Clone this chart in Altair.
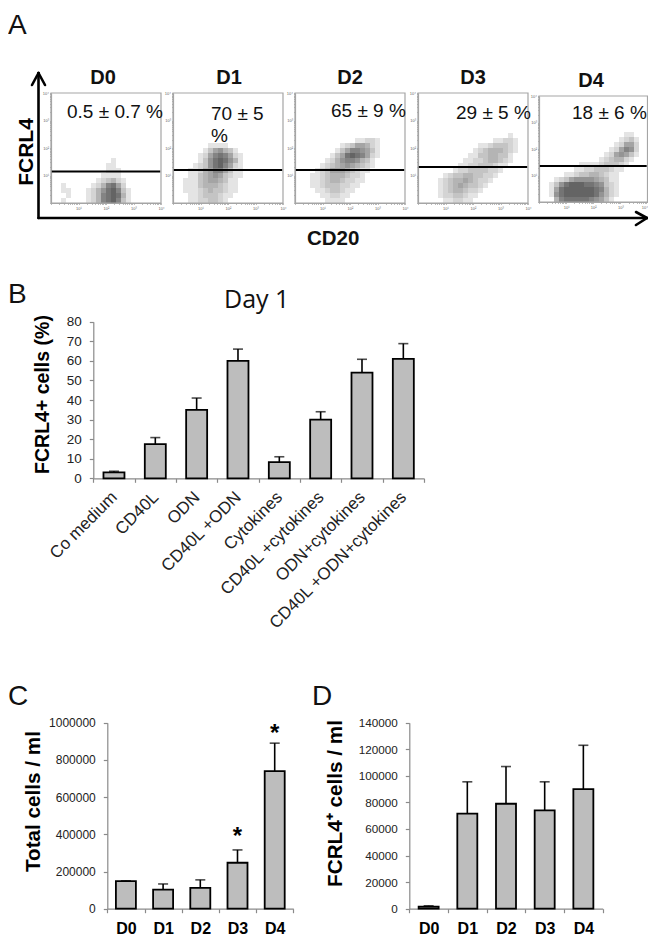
import math
import altair as alt
import pandas as pd

W, H = 640, 930
M = 8  # page margin

# ---------- values ----------
cats_b = ["Co medium", "CD40L", "ODN", "CD40L +ODN", "Cytokines",
          "CD40L +cytokines", "ODN+cytokines", "CD40L +ODN+cytokines"]
vals_b = [3, 17.5, 35, 60, 8.3, 30, 54, 61]
tops_b = [3.6, 20.8, 41, 66, 11, 34, 60.8, 68.8]

days = ["D0", "D1", "D2", "D3", "D4"]
vals_c = [148000, 103000, 112000, 247000, 740000]
tops_c = [150000, 133000, 155000, 316000, 890000]
star_days = ["D3", "D4"]
star_vals = [407000, 961000]

vals_d = [1500, 71500, 79000, 74000, 90000]
tops_d = [2200, 95500, 107000, 95500, 123000]

# Density of the flow-cytometry clouds, read by eye: one string per row, top to
# bottom, one digit per cell (0 = empty, 9 = darkest).
dens_d0 = [
    "0000000000000000000000",
    "0000000000000000000000",
    "0000000000000000000000",
    "0000000000000000000000",
    "0000000000000000000000",
    "0000000000000000000000",
    "0000000000001000000000",
    "0000000000011000000000",
    "0000000000011100000000",
    "0000000000111100000000",
    "0000000001234210000000",
    "0010000012478520000000",
    "0011000124689731000000",
    "0001000124789841000000",
    "0010000124789731000000",
]
dens_d1 = [
    "0000000000000000000000",
    "0000000000000000000000",
    "0000000000000000000000",
    "0000000111100000000000",
    "0000001356431000000000",
    "0000012578752100000000",
    "0000013689864100000000",
    "0000123689752100000000",
    "0001124577531100000000",
    "0001134565321100000000",
    "0011134554311000000000",
    "0011134443211000000000",
    "0011123433211000000000",
    "0001123332110000000000",
    "0001122332100000000000",
]
dens_d2 = [
    "0000000000000000000000",
    "0000000000000000000000",
    "0000000000001122100000",
    "0000000001235542100000",
    "0000000013577653100000",
    "0000000135898752100000",
    "0000001246776431000000",
    "0000012345654321000000",
    "0000123555432110000000",
    "0001123444322100000000",
    "0001123443221100000000",
    "0001123332211000000000",
    "0000112332110000000000",
    "0000011221100000000000",
    "0000001111000000000000",
]
dens_d3 = [
    "0000000000000000000000",
    "0000000000000000001000",
    "0000000000000001122100",
    "0000000000001123332100",
    "0000000000012344432100",
    "0000000000113344331000",
    "0000000001122344321000",
    "0000000011223332110000",
    "0000000122333322100000",
    "0000012334433221000000",
    "0000123445432210000000",
    "0000123454332100000000",
    "0000123443221000000000",
    "0000122332110000000000",
    "0000011221100000000000",
]
dens_d4 = [
    "0000000000000000000000",
    "0000000000000000011000",
    "0000000000000000123100",
    "0000000000000001255200",
    "0000000000000012576200",
    "0000000000000125653100",
    "0000000000001234421000",
    "0000000011112333210000",
    "0000000112233321100000",
    "0000011233443211000000",
    "0001235666654311000000",
    "0013689998876321000000",
    "0015899999987421000000",
    "0016899999986421000000",
    "0004788888765310000000",
]
gates = [1.145, 1.2, 1.2, 1.31, 1.36]
percents = ["0.5 \u00b1 0.7 %", "70 \u00b1 5", "65 \u00b1 9 %", "29 \u00b1 5 %", "18 \u00b1 6 %"]

FONT = "Liberation Sans"
GRAY_AX = "#8a8a8a"


def label(text, x, y, size, weight="normal", align="left", font=FONT, color="#111111"):
    return alt.Chart(pd.DataFrame({"t": [text]})).mark_text(
        font=font, fontSize=size, fontWeight=weight, align=align,
        baseline="alphabetic", color=color,
    ).encode(x=alt.value(x - M), y=alt.value(y - M), text="t:N")


def stroke(x1, y1, x2, y2, width=2.6, color="black"):
    return alt.Chart(pd.DataFrame({"a": [0]})).mark_rule(
        color=color, strokeWidth=width, strokeCap="round"
    ).encode(x=alt.value(x1 - M), y=alt.value(y1 - M),
             x2=alt.value(x2 - M), y2=alt.value(y2 - M))


# ---------- panel A: scatter boxes ----------
DEC = [d + math.log10(k) for d in range(4) for k in range(1, 10)] + [4]
SUP = ("datum.value==1?'10\u00b9':datum.value==2?'10\u00b2':"
       "datum.value==3?'10\u00b3':datum.value==4?'10\u2074':''")


def flow_panel(rows, gate, x0, x1, ytop, ybot, flush=False):
    step_x = 5 * 4 / (x1 - x0)
    step_y = 5 * 4 / (ybot - ytop)
    cells = []
    for r, row in enumerate(rows):
        i = len(rows) - 1 - r
        for c, ch in enumerate(row):
            if ch != "0":
                cells.append({"dx": (c + 0.5) * step_x, "dy": (i + 0.5) * step_y, "level": int(ch)})
    xs = alt.Scale(domain=[0, 4], range=[x0 - M, x1 - M], nice=False, zero=False)
    ys = alt.Scale(domain=[0, 4], range=[ybot - M, ytop - M], nice=False, zero=False)
    ax_x = alt.Axis(orient="bottom", offset=ybot - M - H, values=DEC, labelExpr=SUP, title=None,
                    grid=False, tickSize=1.5, tickWidth=0.5, tickColor="#777777", domainColor="#a5a5a5",
                    domainWidth=1.2, labelFontSize=4, labelColor="#666666", labelPadding=2,
                    labelFont=FONT, labelOverlap=False, labelBound=False, labelFlush=flush)
    ax_y = alt.Axis(orient="left", offset=-(x0 - M), values=DEC, labelExpr=SUP, title=None,
                    grid=False, tickSize=1.5, tickWidth=0.5, tickColor="#777777", domainColor="#a5a5a5",
                    domainWidth=1.2, labelFontSize=4, labelColor="#666666", labelPadding=1,
                    labelFont=FONT, labelOverlap=False, labelBound=False, labelFlush=False)
    cloud = alt.Chart(pd.DataFrame(cells)).mark_square(size=25.5, color="#2e2e2e").encode(
        x=alt.X("dx:Q", scale=xs, axis=ax_x),
        y=alt.Y("dy:Q", scale=ys, axis=ax_y),
        opacity=alt.Opacity("level:Q", scale=alt.Scale(domain=[1, 9], range=[0.13, 0.74]), legend=None),
    )
    frame = alt.Chart(pd.DataFrame({"a": [0], "b": [4]})).mark_rect(
        fill=None, stroke="#a5a5a5", strokeWidth=1.2
    ).encode(x=alt.X("a:Q", scale=xs, axis=ax_x), x2="b:Q",
             y=alt.Y("a:Q", scale=ys, axis=ax_y), y2="b:Q")
    line = alt.Chart(pd.DataFrame({"g": [gate], "a": [0.03], "b": [3.97]})).mark_rule(
        color="black", strokeWidth=2
    ).encode(x=alt.X("a:Q", scale=xs, axis=ax_x), x2="b:Q",
             y=alt.Y("g:Q", scale=ys, axis=ax_y))
    return alt.layer(cloud, frame, line)


# ---------- bar panels ----------
def bar_panel(cats, vals, tops, ymax, yvals, x0, x1, ytop, ybot, title, title_x, title_y,
              bar_w, cap_w, xaxis_kw, title_size, label_size):
    df = pd.DataFrame({"c": cats, "v": vals, "t": tops})
    xs = alt.Scale(domain=cats, range=[x0 - M, x1 - M], paddingInner=0, paddingOuter=0)
    ys = alt.Scale(domain=[0, ymax], range=[ybot - M, ytop - M], nice=False, zero=True)
    ax_x = alt.Axis(orient="bottom", offset=ybot - M - H, title=None, grid=False,
                    tickBand="extent", tickSize=4, tickColor=GRAY_AX, domainColor=GRAY_AX,
                    tickWidth=1.2, domainWidth=1.2, labelFont=FONT, labelOverlap=False,
                    labelBound=False, labelFlush=False, labelLimit=400, **xaxis_kw)
    ax_y = alt.Axis(orient="left", offset=-(x0 - M), values=yvals, format="d", grid=False,
                    title=title, titleFont=FONT, titleFontSize=title_size, titleFontWeight="bold",
                    titleColor="black", titleX=title_x - x0, titleY=title_y - M,
                    tickSize=4, tickColor=GRAY_AX, domainColor=GRAY_AX, tickWidth=1.2, domainWidth=1.2,
                    labelFont=FONT, labelFontSize=label_size, labelColor="#222222", labelPadding=8)
    X = alt.X("c:N", scale=xs, axis=ax_x, sort=cats)
    bars = alt.Chart(df).mark_bar(size=bar_w, fill="#bdbdbd", stroke="black", strokeWidth=1.8).encode(
        x=X, y=alt.Y("v:Q", scale=ys, axis=ax_y),
    )
    err = alt.Chart(df).mark_rule(color="black", strokeWidth=1.6).encode(
        x=X, y=alt.Y("v:Q", scale=ys, axis=ax_y), y2="t:Q",
    )
    cap = alt.Chart(df).mark_tick(color="black", size=cap_w, thickness=1.6).encode(
        x=X, y=alt.Y("t:Q", scale=ys, axis=ax_y),
    )
    return [err, cap, bars], X, ax_y, ys


kw_b = dict(labelAngle=-45, labelAlign="right", labelBaseline="middle", labelFontSize=17,
            labelColor="#222222", labelPadding=12)
kw_days = dict(labelAngle=0, labelFontSize=16, labelFontWeight="bold", labelColor="black", labelPadding=8)

b_layers, _, _, _ = bar_panel(cats_b, vals_b, tops_b, 80, list(range(0, 81, 10)), 93.3, 424, 321.7, 478.3,
                              "FCRL4+ cells (%)", 52, 394, 21, 10, kw_b, 19.5, 13.5)
c_layers, X_c, ax_y_c, ys_c = bar_panel(days, vals_c, tops_c, 1000000, list(range(0, 1000001, 200000)),
                                        107.3, 293.3, 722.7, 908.7, "Total cells / ml", 43, 801, 20, 10,
                                        kw_days, 20.7, 12)
d_layers, _, _, _ = bar_panel(days, vals_d, tops_d, 140000, list(range(0, 140001, 20000)),
                              409.3, 602.7, 722.7, 908.7, "FCRL4\u207a cells / ml", 345, 803, 20, 10,
                              kw_days, 20.7, 11.7)
stars = alt.Chart(pd.DataFrame({"c": star_days, "v": star_vals, "s": ["*", "*"]})).mark_text(
    font=FONT, fontSize=24, fontWeight="bold", baseline="middle", dy=4, color="black"
).encode(x=X_c, y=alt.Y("v:Q", scale=ys_c, axis=ax_y_c), text="s:N")

panels = [
    flow_panel(dens_d0, gates[0], 51, 161, 93, 203),
    flow_panel(dens_d1, gates[1], 173, 283, 93, 203),
    flow_panel(dens_d2, gates[2], 295, 405, 93, 203),
    flow_panel(dens_d3, gates[3], 418, 528, 93, 203),
    flow_panel(dens_d4, gates[4], 539, 647.5, 96, 202, flush=True),
    alt.layer(*b_layers),
    alt.layer(*c_layers, stars),
    alt.layer(*d_layers),
]

fcrl = alt.Chart(pd.DataFrame({"t": ["FCRL4"]})).mark_text(
    font=FONT, fontSize=21, fontWeight="bold", angle=270, align="center", baseline="alphabetic", color="black"
).encode(x=alt.value(33 - M), y=alt.value(152 - M), text="t:N")

annotations = [
    stroke(38.5, 73, 38.5, 218), stroke(32, 85, 38.5, 73), stroke(45, 85, 38.5, 73),
    stroke(38.5, 218, 647, 218), stroke(636, 212, 647, 218), stroke(636, 225, 647, 218),
    label("A", 8, 34, 28),
    label("B", 8, 303, 28),
    label("C", 8, 705, 28),
    label("D", 312, 705, 28),
    label("D0", 103, 84, 20, "bold", "center"),
    label("D1", 229, 84, 20, "bold", "center"),
    label("D2", 350, 84, 20, "bold", "center"),
    label("D3", 473, 84, 20, "bold", "center"),
    label("D4", 591, 87, 20, "bold", "center"),
    label(percents[0], 67, 118, 19),
    label(percents[1], 211, 120, 19),
    label("%", 211, 142, 19),
    label(percents[2], 331, 117, 19),
    label(percents[3], 456, 119, 19),
    label(percents[4], 572, 119, 19),
    label("CD20", 307, 245, 20.5, "bold"),
    label("Day 1", 224, 308, 25, font="Open Sans"),
    fcrl,
]

chart = alt.layer(*panels, *annotations).resolve_scale(x="independent", y="independent").properties(
    width=W, height=H, padding=0, autosize=alt.AutoSizeParams(type="none"), background="white"
).configure_view(stroke=None)

chart.save("out.html", embed_options={"renderer": "svg", "actions": False})
